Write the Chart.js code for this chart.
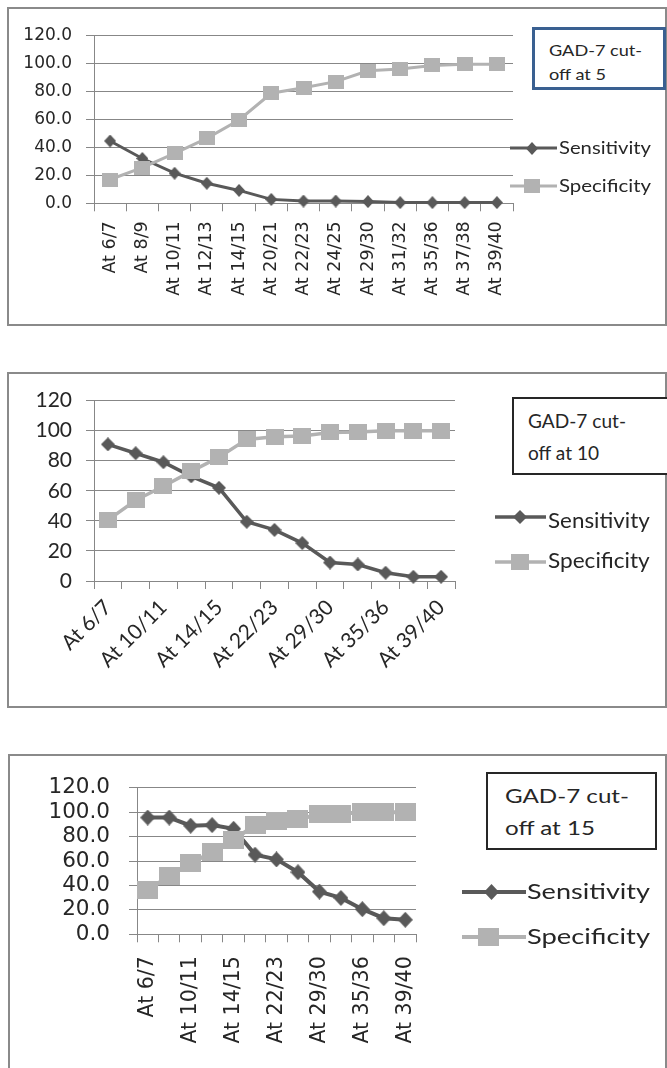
<!DOCTYPE html>
<html>
<head>
<meta charset="utf-8">
<script src="https://cdn.jsdelivr.net/npm/chart.js@4.4.1/dist/chart.umd.min.js"></script>
<style>
  html, body { margin: 0; padding: 0; background: #fff; }
  body { width: 667px; height: 1068px; position: relative; overflow: hidden; }
  .panel { position: absolute; box-sizing: border-box; border: 2px solid #8a8a8a; background: #fff; }
  canvas.plot { position: absolute; left: 0; }
  .note { position: absolute; box-sizing: border-box; background: #fff; overflow: visible; }
  .note span { position: absolute; white-space: nowrap; transform-origin: 0 0; color: #262626; font-family: Lato, sans-serif; }
</style>
</head>
<body>
<div class="panel" style="left:7px;top:7px;width:660px;height:319px"></div>
<div class="panel" style="left:7px;top:372px;width:660px;height:336px"></div>
<div class="panel" style="left:8px;top:754px;width:659px;height:340px"></div>
<canvas class="plot" id="c5" width="667" height="315" style="top:9px"></canvas>
<canvas class="plot" id="c10" width="667" height="333" style="top:374px"></canvas>
<canvas class="plot" id="c15" width="667" height="312" style="top:756px"></canvas>

<script>
// Cut-off points along the x axis
const categories = ['At 6/7', 'At 8/9', 'At 10/11', 'At 12/13', 'At 14/15', 'At 20/21', 'At 22/23',
                    'At 24/25', 'At 29/30', 'At 31/32', 'At 35/36', 'At 37/38', 'At 39/40'];
const seriesNames = ['Sensitivity', 'Specificity'];
const yTickValues = [0, 20, 40, 60, 80, 100, 120];

// GAD-7 cut-off at 5
const sensitivity5 = [44.5, 32, 21.5, 14.3, 9.2, 2.8, 1.6, 1.6, 1.2, 0.5, 0.5, 0.5, 0.5];
const specificity5 = [17, 25.5, 35.7, 46.4, 59.5, 78.6, 82.6, 86.9, 94.7, 95.9, 98.5, 99.3, 99.3];
const note5 = ['GAD-7 cut-', 'off at 5'];

// GAD-7 cut-off at 10
const sensitivity10 = [90.9, 85, 79, 69.6, 62, 39.4, 34, 25.2, 12.3, 11, 5.5, 2.8, 2.8];
const specificity10 = [40.5, 53.7, 63, 72.9, 82.3, 94.2, 96, 96.4, 98.8, 99.1, 100, 100, 100];
const note10 = ['GAD-7 cut-', 'off at 10'];

// GAD-7 cut-off at 15
const sensitivity15 = [95.7, 95.7, 89, 89.5, 86.5, 65.3, 61.4, 50.9, 35, 29.8, 20.6, 13.2, 11.9];
const specificity15 = [36.4, 47.7, 58.2, 67.2, 77.2, 89.6, 93, 94.3, 98.3, 98.8, 100, 100, 100];
const note15 = ['GAD-7 cut-', 'off at 15'];

const SENS_COLOR = '#595959';
const SPEC_COLOR = '#b2b2b2';
const GRID_COLOR = '#878787';
const TEXT_COLOR = '#262626';

// Marker bitmaps (Excel-style markers are not perfectly square)
function marker(shape, w, h, color) {
  const c = document.createElement('canvas');
  c.width = w; c.height = h;
  const g = c.getContext('2d');
  g.fillStyle = color;
  if (shape === 'diamond') {
    g.beginPath();
    g.moveTo(w / 2, 0); g.lineTo(w, h / 2); g.lineTo(w / 2, h); g.lineTo(0, h / 2);
    g.closePath(); g.fill();
  } else {
    g.fillRect(0, 0, w, h);
  }
  return c;
}

const measureCtx = document.createElement('canvas').getContext('2d');
function textWidth(text, font) { measureCtx.font = font; return measureCtx.measureText(text).width; }

// Legend to the right of the plot: line + marker + label
function sideLegend(items, canvasTop) {
  return {
    id: 'sideLegend',
    afterDraw(chart) {
      const ctx = chart.ctx;
      items.forEach(it => {
        const y = it.y - canvasTop;
        ctx.save();
        ctx.strokeStyle = it.color;
        ctx.lineWidth = it.lineWidth;
        ctx.beginPath(); ctx.moveTo(it.x0, y); ctx.lineTo(it.x1, y); ctx.stroke();
        ctx.drawImage(it.marker, Math.round(it.mx - it.marker.width / 2), Math.round(y - it.marker.height / 2));
        ctx.font = it.fontSize + 'px Lato, sans-serif';
        ctx.fillStyle = TEXT_COLOR;
        ctx.textBaseline = 'alphabetic';
        const w = ctx.measureText(it.text).width;
        ctx.translate(it.tx, it.baseline - canvasTop);
        ctx.scale(it.width / w, 1);
        ctx.fillText(it.text, 0, 0);
        ctx.restore();
      });
    }
  };
}

// Text box with the cut-off label
function addNote(n) {
  const d = document.createElement('div');
  d.className = 'note';
  d.style.left = n.left + 'px'; d.style.top = n.top + 'px';
  d.style.width = n.width + 'px'; d.style.height = n.height + 'px';
  d.style.border = n.border;
  document.body.appendChild(d);
  const font = n.fontSize + 'px Lato, sans-serif';
  const k = n.textWidth / textWidth(n.lines[0], font);
  n.lines.forEach((line, i) => {
    const s = document.createElement('span');
    s.textContent = line;
    s.style.fontSize = n.fontSize + 'px';
    s.style.lineHeight = (n.fontSize * 1.2) + 'px';
    s.style.left = (n.textX - n.left - n.borderW) + 'px';
    s.style.top = (n.baselines[i] - n.top - n.borderW - 0.987 * n.fontSize) + 'px';
    s.style.transform = 'scaleX(' + k + ')';
    d.appendChild(s);
  });
}

function buildChart(cfg) {
  const top = cfg.canvasTop;
  const diamond = marker('diamond', cfg.diamond[0], cfg.diamond[1], SENS_COLOR);
  const square = marker('square', cfg.square[0], cfg.square[1], SPEC_COLOR);
  const legendItems = [
    Object.assign({ text: seriesNames[0], color: SENS_COLOR, marker: diamond, lineWidth: cfg.lineWidth }, cfg.legend[0]),
    Object.assign({ text: seriesNames[1], color: SPEC_COLOR, marker: square, lineWidth: cfg.lineWidth }, cfg.legend[1])
  ];
  new Chart(document.getElementById(cfg.id), {
    type: 'line',
    data: {
      labels: categories,
      datasets: [
        { label: seriesNames[0], data: cfg.sens, borderColor: SENS_COLOR, backgroundColor: SENS_COLOR,
          borderWidth: cfg.lineWidth, pointStyle: diamond, pointRadius: 6, tension: 0, clip: false, order: 2 },
        { label: seriesNames[1], data: cfg.spec, borderColor: SPEC_COLOR, backgroundColor: SPEC_COLOR,
          borderWidth: cfg.lineWidth, pointStyle: square, pointRadius: 6, tension: 0, clip: false, order: 1 }
      ]
    },
    options: {
      responsive: false,
      animation: false,
      devicePixelRatio: 1,
      events: [],
      layout: { padding: { left: 0, right: 667 - cfg.plot.right, top: cfg.plot.top - top, bottom: 0 } },
      plugins: { legend: { display: false }, tooltip: { enabled: false } },
      scales: {
        x: {
          type: 'category',
          offset: true,
          grid: { offset: true, drawOnChartArea: false, drawTicks: true, tickLength: cfg.xTick, color: GRID_COLOR },
          border: { display: true, color: GRID_COLOR, width: 1 },
          ticks: {
            autoSkip: false, minRotation: cfg.rotation, maxRotation: cfg.rotation,
            padding: cfg.xPad, font: cfg.xFont, color: TEXT_COLOR,
            callback: function (v, i) { return (i % cfg.every) ? '' : this.getLabelForValue(v); }
          },
          afterFit(s) { s.height = cfg.canvasH - (cfg.plot.bottom - top); }
        },
        y: {
          min: 0, max: 120,
          afterBuildTicks(s) { s.ticks = yTickValues.map(v => ({ value: v })); },
          grid: { color: GRID_COLOR, drawTicks: true, tickLength: cfg.yTick },
          border: { display: true, color: GRID_COLOR, width: 1 },
          ticks: { autoSkip: false, padding: cfg.yPad, font: cfg.yFont, color: TEXT_COLOR, callback: v => cfg.fmt(v) },
          afterFit(s) { s.width = cfg.plot.left; }
        }
      }
    },
    plugins: [sideLegend(legendItems, top)]
  });
  addNote(cfg.note);
}

function build() {
  buildChart({
    id: 'c5', canvasTop: 9, canvasH: 315,
    sens: sensitivity5, spec: specificity5,
    plot: { left: 94, right: 513, top: 35.3, bottom: 203.3 },
    lineWidth: 3, diamond: [12, 13], square: [16, 14],
    rotation: 90, every: 1, xTick: 8, xPad: 10, yTick: 8, yPad: 14,
    xFont: { family: 'DejaVu Sans', size: 17.5 }, yFont: { family: 'DejaVu Sans', size: 17 },
    fmt: v => v.toFixed(1),
    legend: [
      { x0: 510, x1: 557, mx: 532, y: 148, tx: 559, baseline: 153.5, width: 92, fontSize: 17.5 },
      { x0: 510, x1: 557, mx: 532, y: 186, tx: 559, baseline: 191.5, width: 92, fontSize: 17.5 }
    ],
    note: { lines: note5, left: 532, top: 27, width: 134, height: 63, border: '3px solid #3a6091', borderW: 3,
            textX: 549, baselines: [55.5, 79.5], fontSize: 16, textWidth: 93 }
  });
  buildChart({
    id: 'c10', canvasTop: 374, canvasH: 333,
    sens: sensitivity10, spec: specificity10,
    plot: { left: 94, right: 455, top: 398.3, bottom: 581 },
    lineWidth: 3.5, diamond: [14, 14], square: [18, 16],
    rotation: 45, every: 2, xTick: 8, xPad: 6, yTick: 8, yPad: 14,
    xFont: { family: 'Lato', size: 21 }, yFont: { family: 'Lato', size: 21 },
    fmt: v => String(v),
    legend: [
      { x0: 495, x1: 546, mx: 520, y: 517, tx: 548, baseline: 528, width: 101.7, fontSize: 21 },
      { x0: 495, x1: 546, mx: 520, y: 562, tx: 548, baseline: 568, width: 101.7, fontSize: 21 }
    ],
    note: { lines: note10, left: 512, top: 397, width: 165, height: 78, border: '2px solid #262626', borderW: 2,
            textX: 528, baselines: [428, 460], fontSize: 18.5, textWidth: 98 }
  });
  buildChart({
    id: 'c15', canvasTop: 756, canvasH: 312,
    sens: sensitivity15, spec: specificity15,
    plot: { left: 137, right: 416, top: 782.5, bottom: 934.3 },
    lineWidth: 4, diamond: [15, 16], square: [21, 18],
    rotation: 90, every: 2, xTick: 8, xPad: 14, yTick: 8, yPad: 19,
    xFont: { family: 'DejaVu Sans', size: 20.5 }, yFont: { family: 'DejaVu Sans', size: 21.5 },
    fmt: v => v.toFixed(1),
    legend: [
      { x0: 462, x1: 526, mx: 491, y: 892, tx: 527, baseline: 899, width: 123, fontSize: 22 },
      { x0: 462, x1: 526, mx: 488, y: 937, tx: 527, baseline: 944, width: 123, fontSize: 22 }
    ],
    note: { lines: note15, left: 486, top: 772, width: 171, height: 78, border: '2px solid #262626', borderW: 2,
            textX: 505, baselines: [803, 835], fontSize: 18.5, textWidth: 124 }
  });
}

Promise.all(['17px "DejaVu Sans"', '21px Lato'].map(f => document.fonts.load(f).catch(() => null)))
  .then(build, build);
</script>
</body>
</html>
